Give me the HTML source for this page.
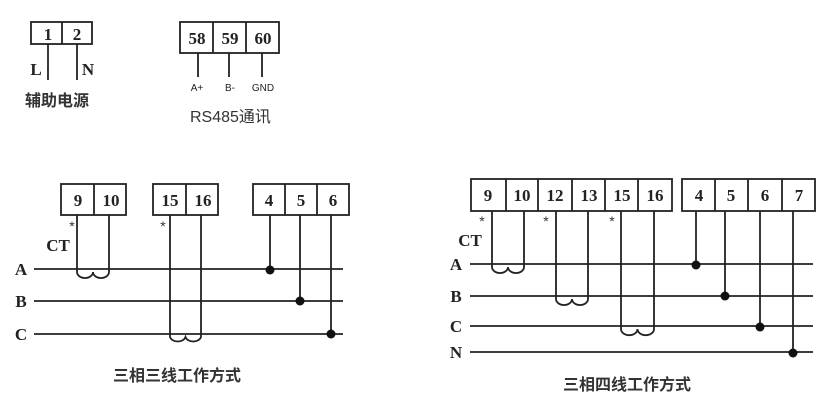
<!DOCTYPE html>
<html><head><meta charset="utf-8"><style>
html,body{margin:0;padding:0;background:#fff;}
svg{display:block;}
.n{font-family:"Liberation Serif",serif;font-weight:bold;font-size:17px;fill:#222;text-anchor:middle;}
.s{font-family:"Liberation Sans",sans-serif;font-size:10px;fill:#222;text-anchor:middle;}
.c{font-family:"Liberation Sans","Noto Sans CJK SC",sans-serif;font-size:16px;font-weight:bold;fill:#333;}
.st{font-family:"Liberation Sans",sans-serif;font-size:14px;fill:#333;text-anchor:middle;}
</style></head><body>
<svg width="837" height="402" viewBox="0 0 837 402" xmlns="http://www.w3.org/2000/svg">
<g stroke="#222" stroke-width="1.8" fill="none">
<rect x="31" y="22" width="61" height="22"/><line x1="62" y1="22" x2="62" y2="44"/>
<line x1="48" y1="44" x2="48" y2="80"/><line x1="77" y1="44" x2="77" y2="80"/>
<rect x="180" y="22" width="99" height="31"/><line x1="213" y1="22" x2="213" y2="53"/><line x1="246" y1="22" x2="246" y2="53"/>
<line x1="198" y1="53" x2="198" y2="77"/><line x1="229" y1="53" x2="229" y2="77"/><line x1="262" y1="53" x2="262" y2="77"/>
<rect x="61" y="184" width="65" height="31"/><line x1="94" y1="184" x2="94" y2="215"/>
<rect x="153" y="184" width="65" height="31"/><line x1="186" y1="184" x2="186" y2="215"/>
<rect x="253" y="184" width="96" height="31"/><line x1="285" y1="184" x2="285" y2="215"/><line x1="317" y1="184" x2="317" y2="215"/>
<line x1="34" y1="269" x2="343" y2="269"/><line x1="34" y1="301" x2="343" y2="301"/><line x1="34" y1="334" x2="343" y2="334"/>
<path d="M77 215 V272 A8 6 0 0 0 93 272 A8 6 0 0 0 109 272 V215"/>
<path d="M170 215 V337 A8 6 0 0 0 185.5 337 A8 6 0 0 0 201 337 V215"/>
<line x1="270" y1="215" x2="270" y2="269"/><line x1="300" y1="215" x2="300" y2="301"/><line x1="331" y1="215" x2="331" y2="334"/>
<rect x="471" y="179" width="201" height="32"/>
<line x1="506" y1="179" x2="506" y2="211"/><line x1="538" y1="179" x2="538" y2="211"/><line x1="572" y1="179" x2="572" y2="211"/><line x1="605" y1="179" x2="605" y2="211"/><line x1="638" y1="179" x2="638" y2="211"/>
<rect x="682" y="179" width="133" height="32"/>
<line x1="715" y1="179" x2="715" y2="211"/><line x1="748" y1="179" x2="748" y2="211"/><line x1="782" y1="179" x2="782" y2="211"/>
<line x1="470" y1="264" x2="813" y2="264"/><line x1="470" y1="296" x2="813" y2="296"/><line x1="470" y1="326" x2="813" y2="326"/><line x1="470" y1="352" x2="813" y2="352"/>
<path d="M492 211 V267 A8 6 0 0 0 508 267 A8 6 0 0 0 524 267 V211"/>
<path d="M556 211 V299 A8 6 0 0 0 572 299 A8 6 0 0 0 588 299 V211"/>
<path d="M621 211 V329 A8 6 0 0 0 637.5 329 A8 6 0 0 0 654 329 V211"/>
<line x1="696" y1="211" x2="696" y2="264"/><line x1="725" y1="211" x2="725" y2="296"/><line x1="760" y1="211" x2="760" y2="326"/><line x1="793" y1="211" x2="793" y2="352"/>
</g>
<g fill="#111">
<circle cx="270" cy="270" r="4.5"/><circle cx="300" cy="301" r="4.5"/><circle cx="331" cy="334" r="4.5"/>
<circle cx="696" cy="265" r="4.5"/><circle cx="725" cy="296" r="4.5"/><circle cx="760" cy="327" r="4.5"/><circle cx="793" cy="353" r="4.5"/>
</g>
<text class="n" x="48" y="40">1</text><text class="n" x="77" y="40">2</text>
<text class="n" x="197" y="44">58</text><text class="n" x="230" y="44">59</text><text class="n" x="263" y="44">60</text>
<text class="n" x="36" y="75">L</text><text class="n" x="88" y="75">N</text>
<text class="s" x="197" y="91">A+</text><text class="s" x="230" y="91">B-</text><text class="s" x="263" y="91">GND</text>
<text class="c" x="25" y="106">辅助电源</text>
<text class="c" x="190" y="122" style="font-weight:normal">RS485通讯</text>
<text class="n" x="78" y="206">9</text><text class="n" x="111" y="206">10</text>
<text class="n" x="170" y="206">15</text><text class="n" x="203" y="206">16</text>
<text class="n" x="269" y="206">4</text><text class="n" x="301" y="206">5</text><text class="n" x="333" y="206">6</text>
<text class="st" x="72" y="231">*</text><text class="st" x="163" y="231">*</text>
<text class="n" x="58" y="251">CT</text>
<text class="n" x="21" y="275">A</text><text class="n" x="21" y="307">B</text><text class="n" x="21" y="340">C</text>
<text class="c" x="113" y="381">三相三线工作方式</text>
<text class="n" x="488" y="201">9</text><text class="n" x="522" y="201">10</text><text class="n" x="555" y="201">12</text><text class="n" x="589" y="201">13</text><text class="n" x="622" y="201">15</text><text class="n" x="655" y="201">16</text>
<text class="n" x="699" y="201">4</text><text class="n" x="731" y="201">5</text><text class="n" x="765" y="201">6</text><text class="n" x="799" y="201">7</text>
<text class="st" x="482" y="226">*</text><text class="st" x="546" y="226">*</text><text class="st" x="612" y="226">*</text>
<text class="n" x="470" y="246">CT</text>
<text class="n" x="456" y="270">A</text><text class="n" x="456" y="302">B</text><text class="n" x="456" y="332">C</text><text class="n" x="456" y="358">N</text>
<text class="c" x="563" y="390">三相四线工作方式</text>
</svg>
</body></html>
